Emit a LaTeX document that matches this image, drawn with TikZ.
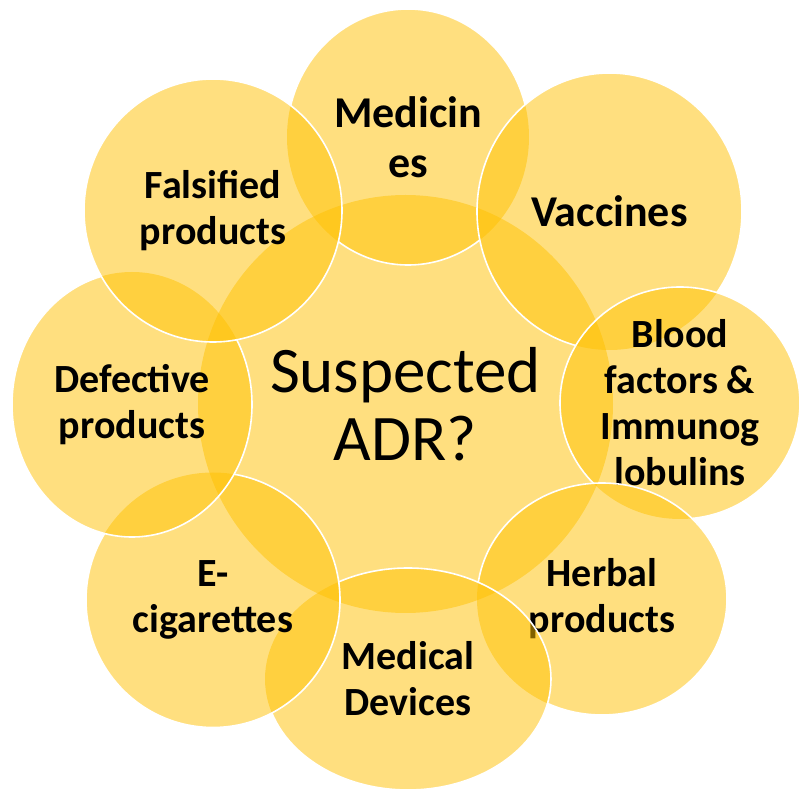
\documentclass[tikz,border=0pt]{standalone}
\usepackage{fontspec}
\setmainfont{Carlito}
\definecolor{gold}{HTML}{FFC000}

\begin{document}
\begin{tikzpicture}[
    x=0.75pt, y=-0.75pt,
    blob/.style={fill=gold, fill opacity=0.5},
    rim/.style={draw=white, line width=1.2pt},
    tag/.style={text=black, text opacity=1, align=center, inner sep=0pt,
      font=\bfseries\fontsize{30}{34.5}\selectfont},
    bigtag/.style={tag, font=\bfseries\fontsize{33}{37.5}\selectfont},
  ]
  \useasboundingbox (0,0) rectangle (801,791);

  % centres of the circles
  \coordinate (hub) at (405.5,404);
  \coordinate (med) at (408,137);
  \coordinate (vac) at (609.5,211.5);
  \coordinate (bld) at (680,403);
  \coordinate (hrb) at (602,599);
  \coordinate (dev) at (408,679);
  \coordinate (cig) at (213,600);
  \coordinate (dfc) at (132,404.5);
  \coordinate (fal) at (213,210.5);

  \path [blob] (hub) ellipse (207.5 and 209)
    node [tag, font=\fontsize{48.75}{51}\selectfont] (adr) {Suspected\\ADR?};

  \path [blob] (med) ellipse (121 and 128)
    node [bigtag] (medt) {Medicin\\es};
  \begin{scope}[even odd rule]
    \clip (0,0) rectangle (801,791) (vac) ellipse (132.5 and 138.5)
      (fal) ellipse (129 and 131.5);
    \draw [rim] (med) ellipse (121 and 128);
  \end{scope}

  \path [blob] (vac) ellipse (132.5 and 138.5)
    node [bigtag] (vact) {Vaccines};
  \begin{scope}[even odd rule]
    \clip (0,0) rectangle (801,791) (bld) ellipse (120 and 116);
    \draw [rim] (vac) ellipse (132.5 and 138.5);
  \end{scope}

  \path [blob] (bld) ellipse (120 and 116)
    node [tag] (bldt) {Blood\\factors \&\\Immunog\\lobulins};
  \begin{scope}[even odd rule]
    \clip (0,0) rectangle (801,791) (hrb) ellipse (125 and 116);
    \draw [rim] (bld) ellipse (120 and 116);
  \end{scope}

  \path [blob] (hrb) ellipse (125 and 116)
    node [tag] (hrbt) {Herbal\\products};
  \begin{scope}[even odd rule]
    \clip (0,0) rectangle (801,791) (dev) ellipse (143 and 111);
    \draw [rim] (hrb) ellipse (125 and 116);
  \end{scope}

  \path [blob] (dev) ellipse (143 and 111)
    node [tag] (devt) {Medical\\Devices};
  \begin{scope}[even odd rule]
    \clip (0,0) rectangle (801,791) (cig) ellipse (127 and 127.5);
    \draw [rim] (dev) ellipse (143 and 111);
  \end{scope}

  \path [blob] (cig) ellipse (127 and 127.5)
    node [tag] (cigt) {E-\\cigarettes};
  \begin{scope}[even odd rule]
    \clip (0,0) rectangle (801,791) (dfc) ellipse (120 and 132.5);
    \draw [rim] (cig) ellipse (127 and 127.5);
  \end{scope}

  \path [blob] (dfc) ellipse (120 and 132.5)
    node [tag] (dfct) {Defective\\products};
  \begin{scope}[even odd rule]
    \clip (0,0) rectangle (801,791) (fal) ellipse (129 and 131.5);
    \draw [rim] (dfc) ellipse (120 and 132.5);
  \end{scope}

  \path [blob, rim] (fal) ellipse (129 and 131.5)
    node [tag] (falt) {Falsified\\products};
\end{tikzpicture}
\end{document}
